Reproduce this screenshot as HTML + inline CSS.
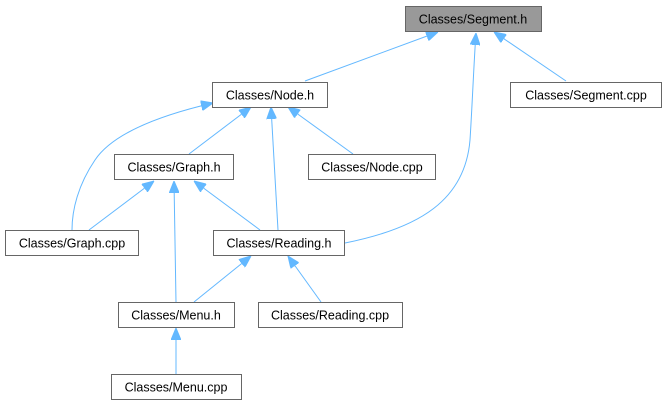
<!DOCTYPE html>
<html><head><style>
html,body{margin:0;padding:0;background:#fff;}
svg{display:block;}
text{font-family:"Liberation Sans",Arial,sans-serif;font-size:12.5px;fill:#000;text-anchor:middle;}
rect{stroke:#666;stroke-width:1;fill:#fff;}
.e{stroke:#63b8ff;stroke-width:1;fill:none;marker-start:url(#a);}
</style></head><body>
<svg width="664" height="411" viewBox="0 0 664 411" xmlns="http://www.w3.org/2000/svg">
<defs>
<marker id="a" markerUnits="userSpaceOnUse" markerWidth="12" markerHeight="10" refX="0" refY="5" orient="auto">
<path d="M0,5 L12,0 L12,10 z" fill="#63b8ff" stroke="#63b8ff"/>
</marker>
</defs>
<!-- edges: start at arrow tip -->
<path class="e" d="M438,32 L305,81"/>
<path class="e" d="M494,32 L566,81"/>
<path class="e" d="M476,33 C474,60 472,110 470,140 C465,200 420,228 345,243"/>
<path class="e" d="M251,107 L189,154"/>
<path class="e" d="M288,107 L353,154"/>
<path class="e" d="M271,107 L278,230"/>
<path class="e" d="M213,103 C170,113 115,130 95,160 C78,185 72,210 72,230"/>
<path class="e" d="M154,181 L89,230"/>
<path class="e" d="M194,181 L260,230"/>
<path class="e" d="M174,181 L176,302"/>
<path class="e" d="M251,256 L194,302"/>
<path class="e" d="M288,256 L321,302"/>
<path class="e" d="M176,328 L176,374"/>
<!-- nodes -->
<rect x="405.5" y="6.5" width="136" height="25" style="fill:#999"/>
<text x="473" y="23.5">Classes/Segment.h</text>
<rect x="212.5" y="82.5" width="115" height="25"/>
<text x="270" y="99.5">Classes/Node.h</text>
<rect x="510.5" y="82.5" width="151" height="25"/>
<text x="586" y="99.5">Classes/Segment.cpp</text>
<rect x="114.5" y="154.5" width="119" height="25"/>
<text x="174" y="171.5">Classes/Graph.h</text>
<rect x="308.5" y="154.5" width="127" height="25"/>
<text x="372" y="171.5">Classes/Node.cpp</text>
<rect x="5.5" y="230.5" width="133" height="25"/>
<text x="72" y="247.5">Classes/Graph.cpp</text>
<rect x="213.5" y="230.5" width="131" height="25"/>
<text x="279" y="247.5">Classes/Reading.h</text>
<rect x="118.5" y="302.5" width="116" height="25"/>
<text x="176" y="319.5">Classes/Menu.h</text>
<rect x="258.5" y="302.5" width="144" height="25"/>
<text x="330" y="319.5">Classes/Reading.cpp</text>
<rect x="111.5" y="374.5" width="130" height="25"/>
<text x="176" y="391.5">Classes/Menu.cpp</text>
</svg>
</body></html>
